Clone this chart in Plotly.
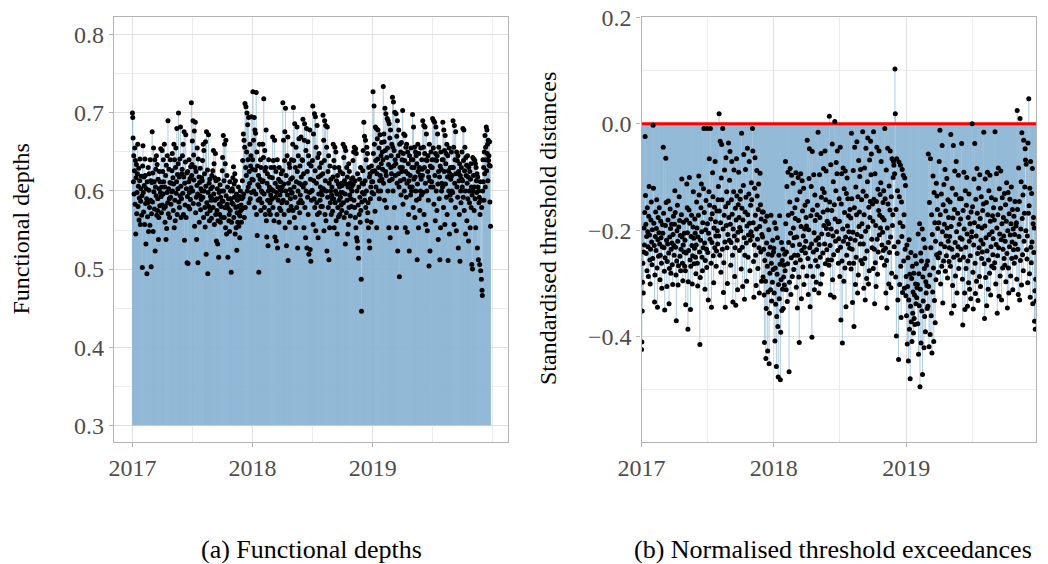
import numpy as np
import pandas as pd
import plotly.graph_objects as go

# daily values, stored in thousandths (one line per month)
DEPTH_2017_X1000 = [
    700, 694, 668, 612, 645, 596, 626, 655, 583, 639, 545, 617, 634, 571, 598, 622, 660, 580, 606, 629, 563, 591, 613, 641, 557, 587, 603, 619, 569, 594, 502,
    632, 658, 598, 573, 618, 607, 557, 641, 620, 584, 532, 603, 590, 494, 612, 567, 585, 630, 548, 601, 622, 579, 556, 640, 588, 613, 503, 571,
    611, 676, 586, 623, 548, 655, 599, 612, 577, 640, 523, 605, 628, 594, 645, 569, 634, 575, 590, 615, 538, 566, 603, 625, 581, 612, 598, 654, 593, 572, 605,
    652, 582, 625, 596, 640, 612, 578, 660, 605, 560, 580, 620, 538, 633, 552, 598, 645, 585, 690, 571, 603, 628, 590, 566, 611, 640, 592, 583, 610, 599,
    626, 648, 600, 617, 575, 609, 660, 553, 640, 588, 562, 630, 655, 597, 612, 680, 570, 621, 603, 635, 700, 586, 618, 579, 641, 594, 682, 606, 566, 590, 622,
    628, 645, 597, 660, 570, 618, 676, 537, 610, 582, 637, 672, 566, 603, 623, 508, 593, 625, 507, 580, 612, 640, 598, 577, 616, 589, 631, 604, 713, 620,
    634, 664, 600, 690, 584, 646, 614, 677, 555, 630, 688, 572, 625, 592, 538, 607, 655, 596, 508, 641, 583, 618, 560, 611, 594, 629, 576, 603, 589, 617, 600,
    613, 639, 592, 660, 566, 652, 600, 622, 579, 554, 663, 606, 519, 676, 585, 571, 627, 494, 598, 672, 580, 610, 562, 615, 575, 593, 603, 588, 565, 620, 590,
    605, 626, 579, 652, 596, 635, 557, 617, 588, 648, 570, 613, 536, 590, 575, 603, 532, 562, 615, 515, 598, 583, 570, 608, 560, 592, 580, 600, 566, 587,
    626, 643, 587, 671, 600, 613, 566, 660, 579, 635, 553, 665, 594, 545, 620, 583, 605, 515, 578, 590, 562, 570, 548, 612, 575, 600, 590, 496, 560, 585, 603,
    600, 617, 583, 631, 566, 609, 592, 622, 545, 613, 579, 553, 596, 524, 572, 588, 560, 580, 605, 555, 570, 593, 540, 568, 600, 575, 582, 560, 590, 577,
    613, 639, 592, 673, 596, 665, 566, 656, 712, 579, 630, 708, 620, 650, 700, 600, 685, 640, 605, 694, 585, 625, 610, 660, 590, 632, 645, 695, 598, 615, 628,
]
DEPTH_2018_X1000 = [
    640, 727, 614, 665, 600, 694, 579, 678, 627, 674, 596, 726, 570, 650, 543, 632, 608, 588, 620, 496, 605, 660, 590, 615, 640, 575, 630, 600, 585, 612, 598,
    660, 613, 643, 718, 596, 579, 652, 626, 570, 630, 678, 562, 541, 610, 622, 588, 530, 600, 640, 575, 605, 618, 585, 570, 595, 630, 589, 602,
    590, 617, 669, 579, 639, 600, 562, 630, 665, 541, 610, 592, 625, 536, 598, 570, 640, 527, 605, 588, 615, 560, 630, 578, 595, 602, 612, 575, 622, 600, 585,
    605, 626, 713, 588, 665, 609, 570, 639, 676, 553, 706, 600, 620, 530, 585, 645, 595, 669, 511, 610, 575, 635, 560, 630, 602, 590, 615, 580, 640, 597,
    598, 617, 660, 575, 707, 639, 605, 566, 686, 592, 630, 553, 656, 612, 579, 682, 625, 527, 600, 645, 585, 667, 610, 572, 632, 595, 588, 669, 618, 608, 640,
    585, 639, 692, 605, 622, 553, 665, 686, 579, 610, 540, 652, 600, 680, 527, 625, 592, 663, 570, 645, 519, 635, 598, 678, 525, 615, 510, 632, 588, 600,
    601, 639, 709, 557, 673, 613, 590, 699, 579, 626, 695, 549, 656, 610, 585, 684, 570, 643, 540, 618, 596, 648, 572, 630, 588, 605, 620, 580, 636, 600, 595,
    580, 622, 697, 603, 665, 549, 639, 690, 570, 613, 684, 562, 600, 656, 523, 682, 592, 625, 579, 645, 512, 610, 553, 632, 585, 600, 615, 570, 595, 605, 590,
    574, 618, 660, 590, 639, 553, 630, 656, 585, 600, 650, 562, 613, 596, 545, 620, 579, 609, 567, 630, 588, 605, 570, 625, 592, 598, 582, 610, 575, 607,
    598, 622, 660, 585, 643, 566, 613, 656, 596, 532, 652, 609, 572, 630, 588, 618, 545, 605, 557, 635, 579, 625, 595, 610, 568, 590, 603, 580, 615, 600, 607,
    617, 639, 609, 650, 588, 656, 579, 613, 566, 654, 553, 648, 540, 600, 536, 622, 527, 582, 514, 605, 570, 615, 592, 560, 630, 575, 487, 446, 586, 610,
    598, 626, 652, 609, 688, 596, 670, 588, 613, 665, 579, 640, 600, 656, 562, 648, 572, 585, 553, 630, 536, 618, 527, 622, 590, 605, 560, 632, 612, 598, 625,
]
DEPTH_2019_X1000 = [
    612, 727, 648, 596, 709, 660, 626, 574, 682, 639, 605, 680, 553, 622, 667, 641, 678, 600, 630, 655, 590, 613, 672, 620, 600, 645, 635, 662, 615, 650, 628,
    640, 734, 610, 673, 663, 588, 706, 652, 625, 699, 620, 579, 643, 693, 655, 600, 690, 634, 553, 686, 613, 668, 540, 678, 630, 645, 622, 660,
    615, 720, 656, 600, 714, 632, 652, 579, 701, 640, 620, 635, 699, 553, 670, 610, 690, 523, 645, 622, 678, 605, 490, 660, 630, 613, 650, 595, 662, 625, 640,
    630, 703, 583, 648, 673, 615, 600, 639, 671, 553, 625, 656, 592, 660, 610, 547, 650, 622, 635, 570, 613, 523, 645, 605, 620, 595, 655, 640, 600, 630,
    605, 698, 640, 579, 682, 615, 630, 656, 566, 618, 650, 600, 645, 588, 635, 512, 609, 660, 625, 553, 648, 590, 630, 575, 620, 600, 655, 615, 595, 640, 628,
    620, 690, 598, 656, 684, 570, 630, 648, 682, 610, 557, 640, 673, 600, 639, 549, 625, 645, 588, 618, 504, 660, 613, 523, 632, 605, 650, 630, 612, 640,
    630, 693, 605, 655, 690, 583, 640, 688, 620, 562, 648, 682, 600, 639, 575, 645, 673, 609, 538, 625, 656, 590, 618, 512, 632, 553, 650, 628, 600, 610, 640,
    605, 688, 640, 579, 678, 625, 652, 557, 671, 609, 635, 648, 592, 660, 570, 618, 645, 511, 626, 600, 655, 545, 622, 595, 630, 615, 588, 650, 600, 620, 630,
    598, 690, 630, 656, 557, 684, 610, 640, 579, 676, 622, 549, 650, 605, 639, 592, 645, 527, 625, 613, 570, 635, 510, 620, 600, 585, 630, 615, 650, 605,
    613, 680, 592, 639, 678, 575, 626, 656, 600, 545, 643, 620, 633, 562, 610, 645, 590, 618, 536, 630, 600, 585, 625, 553, 615, 635, 579, 605, 506, 595, 500,
    643, 600, 620, 641, 575, 605, 639, 590, 635, 553, 630, 613, 598, 622, 527, 618, 605, 512, 600, 585, 592, 506, 570, 612, 498, 588, 487, 579, 473, 466,
    600, 640, 612, 630, 588, 650, 622, 671, 605, 656, 640, 682, 626, 678, 648, 660, 613, 665, 639, 645, 633, 663, 586, 632, 555,
]

DIST_2017_X1000 = [
    -424, -410, -352, -298, -262, -318, -241, -196, -228, -167, -24, -135, -189, -244, -212, -276, -158, -203, -231, -287, -174, -118, -209, -256, -301, -236, -181, -147, -222, -265, -199,
    -253, -3, -121, -187, -229, -335, -284, -212, -166, -238, -197, -143, -271, -345, -218, -176, -249, -205, -158, -226, -293, -247, -183, -214, -262, -309, -231, -190,
    -206, -44, -168, -233, -277, -350, -252, -191, -65, -148, -219, -306, -259, -226, -181, -145, -243, -338, -272, -213, -160, -197, -281, -236, -189, -224, -265, -302, -208, -174, -229,
    -247, -189, -126, -167, -232, -284, -370, -258, -201, -153, -221, -303, -267, -194, -137, -182, -249, -210, -276, -236, -171, -104, -213, -262, -295, -228, -185, -241, -206, -268,
    -219, -276, -340, -243, -181, -113, -158, -205, -386, -297, -238, -162, -101, -187, -256, -349, -268, -212, -172, -229, -301, -248, -194, -128, -215, -263, -234, -179, -206, -251, -282,
    -228, -147, -196, -262, -305, -213, -172, -98, -134, -241, -415, -289, -219, -158, -113, -203, -251, -276, -186, -233, -122, -9, -167, -224, -311, -257, -199, -144, -236, -270,
    -9, -188, -242, -331, -206, -128, -66, -153, -217, -9, -179, -262, -345, -223, -169, -92, -137, -248, -299, -196, -157, -233, -71, -184, -211, -268, -239, -164, -201, -226, -143,
    -118, -211, 19, -164, -247, -33, -186, -279, -102, -39, -143, -236, -9, -198, -317, -261, -172, -87, -222, -345, -156, -64, -191, -128, -233, -300, -208, -149, -36, -176, -219,
    -106, -52, -189, -266, -223, -143, -71, -170, -247, -335, -198, -128, -87, -211, -287, -233, -159, -341, -181, -66, -136, -219, -312, -204, -152, -91, -176, -238, -195, -142,
    -127, -201, -273, -18, -159, -232, -306, -181, -116, -58, -214, -330, -247, -166, -86, -138, -224, -296, -192, -46, -171, -251, -209, -132, -71, -187, -276, -219, -153, -203, -111,
    -143, -211, -9, -51, -186, -259, -326, -228, -121, -64, -172, -247, -304, -198, -88, -136, -217, -272, -161, -113, -233, -318, -193, -93, -152, -241, -179, -296, -208, -166,
    -213, -288, -166, -236, -322, -411, -257, -183, -296, -441, -347, -224, -174, -268, -427, -316, -245, -199, -451, -356, -281, -232, -312, -172, -262, -333, -247, -298, -219, -274, -241,
]
DIST_2018_X1000 = [
    -234, -318, -186, -408, -271, -339, -197, -456, -362, -283, -214, -381, -476, -302, -247, -329, -173, -264, -481, -392, -293, -223, -351, -257, -311, -236, -347, -288, -266, -303, -245,
    -276, -71, -188, -312, -241, -118, -334, -263, -91, -172, -223, -466, -298, -147, -84, -206, -321, -252, -97, -168, -287, -229, -112, -196, -274, -214, -247, -158,
    -178, -261, -92, -307, -213, -143, -346, -247, -101, -182, -288, -411, -227, -128, -256, -94, -193, -329, -238, -107, -164, -269, -211, -121, -302, -232, -198, -153, -243, -221, -176,
    -192, -286, -31, -146, -253, -321, -199, -103, -47, -233, -344, -268, -173, -118, -226, -401, -52, -162, -287, -241, -96, -205, -312, -134, -182, -257, -219, -298, -237, -171,
    -153, -268, -16, -214, -318, -227, -96, -176, -251, -301, -56, -138, -207, -283, -122, -243, -166, -84, -191, -129, -226, -51, -263, -143, -89, -197, -237, -183, -162, -256, -208,
    -188, -266, 14, -147, -229, -322, -77, -198, -256, -163, -38, -293, -211, -109, -246, -326, -152, 4, -179, -221, -126, -73, -203, -94, -51, -238, -184, -262, -216, -141,
    -183, -287, -44, -232, -369, -151, -94, -258, -412, -198, -83, -221, -296, -122, -167, -271, -89, -213, -344, -131, -247, -102, -192, -141, -226, -173, -203, -262, -234, -161, -216,
    -177, -273, -18, -141, -236, -336, -204, -88, -262, -381, -158, -44, -219, -302, -119, -251, -171, -34, -208, -318, -137, -284, -69, -193, -166, -99, -226, -86, -257, -212, -143,
    -188, -263, -15, -127, -226, -309, -171, -83, -253, -331, -202, -46, -136, -291, -239, -109, -27, -194, -301, -157, -276, -68, -176, -146, -33, -96, -57, -217, -233, -151,
    -183, -272, -15, -142, -236, -338, -94, -261, -191, -306, -146, -44, -217, -283, -123, -241, -163, -51, -209, -172, -133, -196, -111, -71, -252, -228, -176, -204, -148, -238, -126,
    -181, -266, -9, -141, -234, -318, -87, -257, -346, -196, -46, -151, -223, -301, -117, -242, -162, -51, -213, -308, -137, -281, -66, -191, -171, -101, -71, -78, -231, -94,
    103, 19, -288, -161, -399, -66, -244, -126, -331, -222, -443, -72, -137, -302, -186, -78, -268, -364, -147, -212, -86, -317, -193, -97, -258, -171, -309, -102, -236, -116, -323,
]
DIST_2019_X1000 = [
    -287, -361, -228, -414, -306, -252, -446, -331, -218, -386, -283, -479, -343, -242, -372, -291, -409, -268, -356, -316, -393, -281, -366, -322, -377, -248, -301, -338, -263, -327, -308,
    -302, -376, -207, -433, -282, -342, -188, -494, -311, -243, -412, -258, -352, -198, -471, -288, -333, -217, -421, -272, -362, -233, -391, -297, -318, -266, -304, -347,
    -258, -343, -57, -306, -419, -148, -284, -396, -66, -233, -361, -171, -431, -208, -316, -98, -271, -409, -129, -332, -186, -374, -221, -293, -112, -246, -136, -161, -197, -252, -279,
    -186, -71, -243, -12, -171, -301, -226, -132, -268, -41, -203, -337, -152, -258, -114, -189, -231, -86, -277, -164, -211, -248, -103, -196, -290, -143, -221, -176, -259, -233,
    -212, -147, -268, -20, -193, -356, -236, -121, -304, -177, -41, -251, -342, -161, -89, -223, -286, -133, -71, -203, -318, -247, -168, -231, -97, -272, -189, -141, -256, -214, -179,
    -236, -141, -37, -217, -292, -378, -163, -251, -91, -198, -318, -349, -126, -232, -272, -153, -101, -207, -343, -258, -176, -299, -132, -221, -311, -188, -248, -329, -166, -213,
    -203, 0, -156, -279, -348, -228, -104, -186, -37, -262, -319, -142, -211, -296, -84, -168, -244, -332, -193, -121, -233, -287, -96, -178, -306, -219, -137, -253, -196, -241, -163,
    -226, -151, -16, -263, -366, -192, -104, -289, -214, -148, -342, -239, -91, -171, -311, -256, -126, -208, -281, -97, -183, -322, -231, -139, -268, -203, -173, -246, -216, -158, -271,
    -181, -261, -15, -143, -301, -227, -94, -196, -356, -248, -171, -83, -233, -324, -122, -207, -286, -159, -89, -218, -331, -188, -139, -271, -236, -176, -211, -253, -131, -266,
    -221, -152, -297, -183, -111, -244, -346, -201, -129, -271, -318, -169, -231, -142, -209, -286, -188, -119, -253, -222, -161, -312, -198, -237, -174, -262, -208, -146, -226, -251, -192,
    -186, -292, 25, -161, -236, -321, -83, -212, -146, -331, 10, -257, -198, -109, -303, -17, -178, -246, -134, -276, -31, -221, -168, -119, -47, -68, -201, -76, -237, -254,
    -211, -299, -36, -168, 47, -154, -282, -121, -326, -71, -232, -261, -131, -222, -84, -338, -188, -176, -242, -196, -371, -314, -386, -292, -333,
]

START = "2017-01-01"
YEAR_TICKS = ["2017-01-01", "2018-01-01", "2019-01-01"]
YEAR_LABELS = ["2017", "2018", "2019"]
HALF_YEARS = ["2017-07-02", "2018-07-02", "2019-07-02", "2020-01-01"]

depth = np.array(DEPTH_2017_X1000 + DEPTH_2018_X1000 + DEPTH_2019_X1000) / 1000
dist = np.array(DIST_2017_X1000 + DIST_2018_X1000 + DIST_2019_X1000) / 1000
days_a = pd.date_range(START, periods=len(depth), freq="D").strftime("%Y-%m-%d")
days_b = pd.date_range(START, periods=len(dist), freq="D").strftime("%Y-%m-%d")

STEM = "rgb(140,182,212)"
SERIF = "Liberation Serif, Times New Roman, serif"

# full window; the page margin is removed in the html (see post_script below)
W, H = 1048, 564


def px_x(p):
    return p / W


def px_y(p):
    return 1 - p / H


def stems(days, values, base):
    """Vertical segments from base to every value (like geom_segment)."""
    xs, ys = [], []
    for d, v in zip(days, values):
        xs += [d, d, None]
        ys += [base, v, None]
    return xs, ys


fig = go.Figure()

sx, sy = stems(days_a, depth, 0.3)
fig.add_trace(go.Scatter(x=sx, y=sy, mode="lines", line=dict(color=STEM, width=0.7),
                         hoverinfo="skip", xaxis="x", yaxis="y"))
fig.add_trace(go.Scatter(x=days_a, y=depth, mode="markers",
                         marker=dict(color="black", size=5), xaxis="x", yaxis="y"))

sx, sy = stems(days_b, dist, 0.0)
fig.add_trace(go.Scatter(x=sx, y=sy, mode="lines", line=dict(color=STEM, width=0.7),
                         hoverinfo="skip", xaxis="x2", yaxis="y2"))
fig.add_trace(go.Scatter(x=[days_b[0], days_b[-1]], y=[0, 0], mode="lines",
                         line=dict(color="red", width=2.8), xaxis="x2", yaxis="y2"))
fig.add_trace(go.Scatter(x=days_b, y=dist, mode="markers",
                         marker=dict(color="black", size=5), xaxis="x2", yaxis="y2"))

common = dict(
    showline=True, linecolor="#b3b3b3", linewidth=1.3, mirror=True,
    ticks="outside", ticklen=4, tickcolor="#b3b3b3", tickwidth=1.2,
    showgrid=True, gridcolor="#e0e0e0", gridwidth=1.1, zeroline=False,
    automargin=False, ticklabeloverflow="allow",
    tickfont=dict(family=SERIF, size=24, color="#4d4d4d"),
)
minor_grid = dict(showgrid=True, gridcolor="#ececec", gridwidth=0.7, ticks="", tickmode="array")
y_dom = [px_y(442), px_y(16.5)]

fig.update_layout(
    width=W, height=H,
    margin=dict(l=0, r=0, t=0, b=0),
    plot_bgcolor="white", paper_bgcolor="white",
    showlegend=False,
    xaxis=dict(common, domain=[px_x(114), px_x(508)], type="date", anchor="y",
               range=["2016-11-06", "2020-02-16"],
               tickmode="array", tickvals=YEAR_TICKS, ticktext=YEAR_LABELS,
               minor=dict(minor_grid, tickvals=HALF_YEARS)),
    yaxis=dict(common, domain=y_dom, anchor="x",
               range=[0.2785, 0.8235],
               tickmode="array", tickvals=[0.3, 0.4, 0.5, 0.6, 0.7, 0.8],
               ticktext=["0.3", "0.4", "0.5", "0.6", "0.7", "0.8"],
               minor=dict(minor_grid, tickvals=[0.35, 0.45, 0.55, 0.65, 0.75])),
    xaxis2=dict(common, domain=[px_x(641.5), px_x(1036)], type="date", anchor="y2",
                range=[days_b[0], days_b[-1]],
                tickmode="array", tickvals=YEAR_TICKS, ticktext=YEAR_LABELS,
                minor=dict(minor_grid, tickvals=HALF_YEARS)),
    yaxis2=dict(common, domain=y_dom, anchor="x2",
                range=[-0.598, 0.2015],
                tickmode="array", tickvals=[-0.4, -0.2, 0.0, 0.2],
                ticktext=["\u22120.4", "\u22120.2", "0.0", "0.2"],
                minor=dict(minor_grid, tickvals=[-0.5, -0.3, -0.1, 0.1])),
)

title_font = dict(family=SERIF, size=24, color="black")
caption_font = dict(family=SERIF, size=26, color="black")
fig.add_annotation(text="Functional depths", x=px_x(20.5), y=px_y(229),
                   xref="paper", yref="paper", textangle=-90, showarrow=False,
                   xanchor="center", yanchor="middle", font=title_font)
fig.add_annotation(text="Standardised threshold distances", x=px_x(548), y=px_y(229),
                   xref="paper", yref="paper", textangle=-90, showarrow=False,
                   xanchor="center", yanchor="middle", font=title_font)
fig.add_annotation(text="(a) Functional depths", x=px_x(311), y=px_y(549),
                   xref="paper", yref="paper", showarrow=False,
                   xanchor="center", yanchor="middle", font=caption_font)
fig.add_annotation(text="(b) Normalised threshold exceedances", x=px_x(833), y=px_y(549),
                   xref="paper", yref="paper", showarrow=False,
                   xanchor="center", yanchor="middle", font=caption_font)

fig.write_html("out.html", config={"displayModeBar": False},
               post_script="document.body.style.margin = '0';")
